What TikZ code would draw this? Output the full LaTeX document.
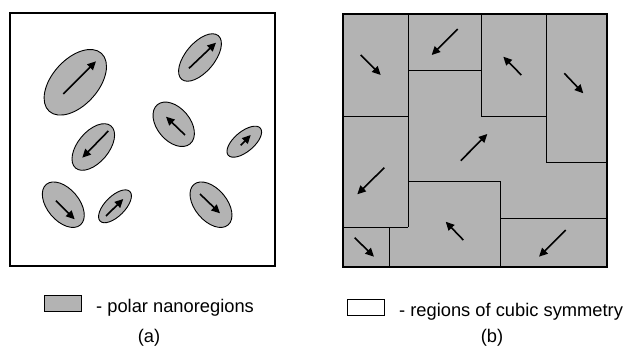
\documentclass[tikz,border=0pt]{standalone}
\usepackage{fontspec}
\setmainfont{Liberation Sans}
\usetikzlibrary{shapes.geometric,arrows.meta}
\definecolor{pnr}{RGB}{179,179,179}
\tikzset{
  region/.style={ellipse, draw=black, line width=0.9pt, fill=pnr, inner sep=0pt},
  pol/.style={line width=1.6pt, -{Triangle[length=8.5pt,width=8pt]}},
  frame/.style={line width=1.4pt},
  wall/.style={line width=0.9pt},
  legbox/.style={draw, line width=0.9pt, minimum width=37pt, minimum height=16.5pt, inner sep=0pt},
  lbl/.style={font=\fontsize{18.3}{21}\selectfont, inner sep=0pt}
}
\begin{document}
\begin{tikzpicture}[x=1pt,y=-1pt]
\useasboundingbox (0,0) rectangle (626,352);
% ---------- panel (a)
\draw[frame] (10,13) rectangle (275,266);
\node[region, minimum width=78pt, minimum height=46pt, rotate=48] (e1) at (75.3,82.3) {};
\node[region, minimum width=57pt, minimum height=29pt, rotate=50] (e2) at (200,57.5) {};
\node[region, minimum width=51pt, minimum height=33pt, rotate=-50] (e3) at (173.7,124.3) {};
\node[region, minimum width=55pt, minimum height=31pt, rotate=50] (e4) at (93.3,147) {};
\node[region, minimum width=42pt, minimum height=20pt, rotate=40] (e5) at (244.3,141.7) {};
\node[region, minimum width=53pt, minimum height=32pt, rotate=-50] (e6) at (63.3,204.7) {};
\node[region, minimum width=42pt, minimum height=20pt, rotate=45] (e7) at (115,206.3) {};
\node[region, minimum width=53pt, minimum height=32pt, rotate=-50] (e8) at (211,204.7) {};
\draw[pol] (63.3,94) -- (96,61.3);
\draw[pol] (189,68.3) -- (216,42.7);
\draw[pol] (185,135) -- (166,116.7);
\draw[pol] (108.3,131) -- (82.3,157.7);
\draw[pol] (240.7,145.3) -- (250.7,135);
\draw[pol] (56,200.7) -- (74.7,219.3);
\draw[pol] (106,216) -- (123.3,199);
\draw[pol] (200,194) -- (220,213.3);
% ---------- panel (b)
\draw[frame, fill=pnr] (343,14) rectangle (607,267);
\draw[wall] (408.3,14) -- (408.3,227.3);
\draw[wall] (343,116.7) -- (408.3,116.7);
\draw[wall] (408.3,70) -- (481.7,70);
\draw[wall] (481.7,14) -- (481.7,116.7) -- (546.7,116.7);
\draw[wall] (546.7,14) -- (546.7,162.7) -- (607,162.7);
\draw[wall] (408.3,181.7) -- (500,181.7) -- (500,267);
\draw[wall] (500,218.3) -- (607,218.3);
\draw[wall] (343,227.3) -- (408.3,227.3);
\draw[wall] (389.3,227.3) -- (389.3,267);
\draw[pol] (360.7,55) -- (380.7,75);
\draw[pol] (457.7,29) -- (431.7,55);
\draw[pol] (521.3,75) -- (503.3,56.7);
\draw[pol] (564.3,73.3) -- (583.3,93.3);
\draw[pol] (460.7,160.7) -- (487.3,134);
\draw[pol] (384.3,167.7) -- (357.3,194.3);
\draw[pol] (463.3,240) -- (445.7,221.7);
\draw[pol] (565.7,230) -- (539,256.7);
\draw[pol] (354.7,237.7) -- (374,256.7);
% ---------- legends
\node[legbox, fill=pnr] (la) at (62.5,303.5) {};
\node[lbl, anchor=base west] (ta) at (96,312.5) {- polar nanoregions};
\node[lbl] (ca) at (149,338) {(a)};
\node[legbox, fill=white] (lb) at (366,307.5) {};
\node[lbl, anchor=base west] (tb) at (399,316.5) {- regions of cubic symmetry};
\node[lbl] (cb) at (492,338) {(b)};
\end{tikzpicture}
\end{document}
